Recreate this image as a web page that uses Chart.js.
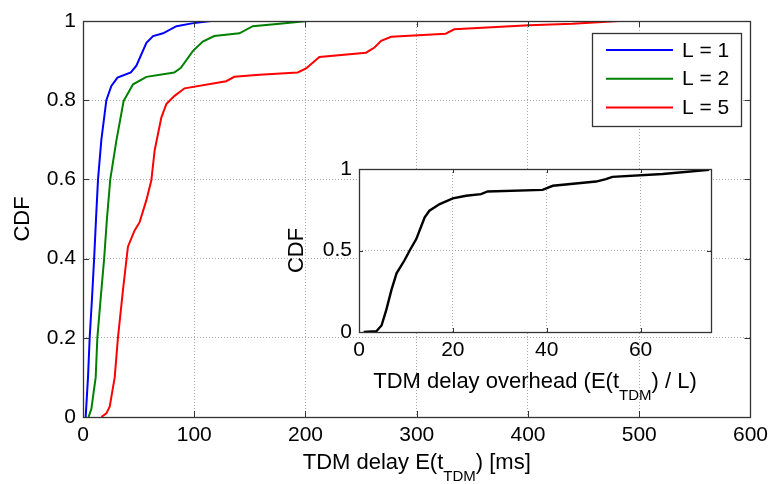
<!DOCTYPE html>
<html>
<head>
<meta charset="utf-8">
<script src="https://cdn.jsdelivr.net/npm/chart.js@4.4.1/dist/chart.umd.min.js"></script>
<style>
	html, body { margin: 0; padding: 0; background: #fff; }
	#wrap { position: relative; width: 774px; height: 484px; }
	#wrap canvas { position: absolute; left: 0; top: 0; }
</style>
</head>
<body>
<div id="wrap">
	<canvas id="mainChart" width="774" height="484"></canvas>
	<canvas id="insetChart" width="774" height="484"></canvas>
</div>
<script>
// данные
const delayL1 = [2.4, 4.5, 6, 8.1, 10, 11.7, 13.5, 16.5, 21, 25.5, 31, 43, 48, 57, 63, 72, 84, 98, 115];
const cdfL1 = [0, 0.1, 0.2, 0.3, 0.4, 0.5, 0.6, 0.7, 0.8, 0.836, 0.857, 0.87, 0.887, 0.945, 0.962, 0.969, 0.987, 0.994, 1];

const delayL2 = [5, 7.5, 11.4, 12.9, 15.9, 19, 21.5, 24.5, 30, 36.5, 45, 57, 82, 88, 98.7, 107.7, 118, 140.6, 152.6, 176.6, 202];
const cdfL2 = [0, 0.02, 0.1, 0.2, 0.3, 0.4, 0.5, 0.6, 0.698, 0.798, 0.84, 0.859, 0.87, 0.882, 0.924, 0.948, 0.962, 0.969, 0.987, 0.993, 1];

const delayL5 = [16.5, 21, 24, 28.5, 31.4, 35.9, 40.4, 46.4, 50.9, 56.9, 61.4, 64.4, 70.4, 74.9, 82.3, 91.3, 128.7, 136, 158.6, 193, 200.5, 212.5, 254.4, 262, 268, 277, 326, 333.7, 401, 440, 482];
const cdfL5 = [0, 0.009, 0.026, 0.1, 0.2, 0.32, 0.43, 0.471, 0.492, 0.547, 0.597, 0.673, 0.756, 0.79, 0.811, 0.83, 0.848, 0.859, 0.864, 0.87, 0.88, 0.909, 0.92, 0.933, 0.95, 0.96, 0.968, 0.979, 0.989, 0.993, 1];

const overhead = [1, 3.7, 4.8, 5.8, 6.9, 8, 9.7, 10.8, 12.2, 13.3, 14, 15, 17.2, 20, 22.8, 26, 27.4, 39.1, 41.3, 50.5, 52.6, 54, 64.7, 74.6];
const cdfOverhead = [0, 0.005, 0.04, 0.134, 0.257, 0.36, 0.44, 0.5, 0.57, 0.652, 0.703, 0.744, 0.785, 0.82, 0.836, 0.846, 0.862, 0.872, 0.897, 0.923, 0.938, 0.952, 0.969, 0.995];

const seriesLabels = ["L = 1", "L = 2", "L = 5"];
const colors = ["#0000ff", "#008000", "#ff0000"];

const mainXTicks = [0, 100, 200, 300, 400, 500, 600];
const mainYTicks = [0, 0.2, 0.4, 0.6, 0.8, 1];
const insetXTicks = [0, 20, 40, 60];
const insetYTicks = [0, 0.5, 1];

// подписи осей: [текст, нижний индекс, текст]
const mainXTitle = ["TDM delay E(t", "TDM", ") [ms]"];
const insetXTitle = ["TDM delay overhead (E(t", "TDM", ") / L)"];
const yTitle = "CDF";

const FONT = "'Liberation Sans', Arial, Helvetica, sans-serif";
Chart.defaults.font.family = FONT;
Chart.defaults.color = "#000";

function toPoints(xs, ys) {
	return xs.map((x, i) => ({ x: x, y: ys[i] }));
}

// рисует строку с нижним индексом по центру cx
function drawSubTitle(ctx, parts, cx, baseY, size, subSize, drop) {
	ctx.save();
	ctx.fillStyle = "#000";
	ctx.textBaseline = "alphabetic";
	ctx.textAlign = "left";
	const fonts = parts.map((p, i) => (i % 2 === 1 ? subSize : size) + "px " + FONT);
	let total = 0;
	const widths = parts.map((p, i) => {
		ctx.font = fonts[i];
		const w = ctx.measureText(p).width;
		total += w;
		return w;
	});
	let x = cx - total / 2;
	parts.forEach((p, i) => {
		ctx.font = fonts[i];
		ctx.fillText(p, x, i % 2 === 1 ? baseY + drop : baseY);
		x += widths[i];
	});
	ctx.restore();
}

function drawRotated(ctx, text, cx, cy, size) {
	ctx.save();
	ctx.translate(cx, cy);
	ctx.rotate(-Math.PI / 2);
	ctx.font = size + "px " + FONT;
	ctx.fillStyle = "#000";
	ctx.textAlign = "center";
	ctx.textBaseline = "middle";
	ctx.fillText(text, 0, 0);
	ctx.restore();
}

// рамка в стиле matlab: тики внутрь со всех сторон
function makeFrame(tickLen, extra) {
	return {
		id: "frame",
		beforeDraw(chart) {
			if (!extra.whiteBg) return;
			const a = chart.chartArea;
			chart.ctx.save();
			chart.ctx.fillStyle = "#fff";
			chart.ctx.fillRect(a.left, a.top, a.right - a.left, a.bottom - a.top);
			chart.ctx.restore();
		},
		afterDraw(chart) {
			const { ctx, chartArea: a, scales } = chart;
			const xs = scales.x;
			const ys = scales.y;
			ctx.save();
			ctx.strokeStyle = "#333";
			ctx.lineWidth = 1;
			ctx.beginPath();
			xs.ticks.forEach((t) => {
				const px = Math.round(xs.getPixelForValue(t.value)) + 0.5;
				ctx.moveTo(px, a.bottom);
				ctx.lineTo(px, a.bottom - tickLen);
				ctx.moveTo(px, a.top);
				ctx.lineTo(px, a.top + tickLen);
			});
			ys.ticks.forEach((t) => {
				const py = Math.round(ys.getPixelForValue(t.value)) + 0.5;
				ctx.moveTo(a.left, py);
				ctx.lineTo(a.left + tickLen, py);
				ctx.moveTo(a.right, py);
				ctx.lineTo(a.right - tickLen, py);
			});
			ctx.stroke();
			ctx.lineWidth = 1.3;
			ctx.strokeRect(Math.round(a.left) + 0.5, Math.round(a.top) + 0.5, Math.round(a.right - a.left), Math.round(a.bottom - a.top));
			ctx.restore();

			// подписи осей
			const cx = (a.left + a.right) / 2;
			drawSubTitle(ctx, extra.xTitle, cx, extra.titleY, 22, 15, 12);
			drawRotated(ctx, yTitle, extra.yTitleX, (a.top + a.bottom) / 2, 22);

			if (extra.legend) drawLegend(chart);
		},
	};
}

function drawLegend(chart) {
	const ctx = chart.ctx;
	const box = { x: 592, y: 33, w: 149, h: 93 };
	ctx.save();
	ctx.fillStyle = "#fff";
	ctx.fillRect(box.x, box.y, box.w, box.h);
	ctx.strokeStyle = "#333";
	ctx.lineWidth = 1.3;
	ctx.strokeRect(box.x + 0.5, box.y + 0.5, box.w, box.h);
	ctx.font = "21px " + FONT;
	ctx.textBaseline = "middle";
	ctx.textAlign = "left";
	chart.data.datasets.forEach((ds, i) => {
		const yy = 50 + i * 28.7;
		ctx.strokeStyle = ds.borderColor;
		ctx.lineWidth = 2;
		ctx.beginPath();
		ctx.moveTo(606, yy);
		ctx.lineTo(673, yy);
		ctx.stroke();
		ctx.fillStyle = "#000";
		ctx.fillText(ds.label, 682, yy + 1);
	});
	ctx.restore();
}

function gridOpts() {
	return {
		color: "#a8a8a8",
		lineWidth: 1,
		drawTicks: false,
	};
}

const mainDatasets = [
	[delayL1, cdfL1],
	[delayL2, cdfL2],
	[delayL5, cdfL5],
].map((pair, i) => ({
	label: seriesLabels[i],
	data: toPoints(pair[0], pair[1]),
	borderColor: colors[i],
	backgroundColor: colors[i],
	borderWidth: 2,
	pointRadius: 0,
	tension: 0,
	fill: false,
}));

const mainChart = new Chart(document.getElementById("mainChart"), {
	type: "line",
	data: { datasets: mainDatasets },
	options: {
		responsive: false,
		animation: false,
		events: [],
		layout: { padding: { left: 0, right: 22, top: 21, bottom: 0 } },
		plugins: { legend: { display: false }, tooltip: { enabled: false } },
		scales: {
			x: {
				type: "linear",
				min: 0,
				max: 600,
				afterFit: (s) => { s.height = 67; },
				afterBuildTicks: (s) => { s.ticks = mainXTicks.map((v) => ({ value: v })); },
				grid: gridOpts(),
				border: { display: false, dash: [1, 2] },
				ticks: { font: { size: 21 }, padding: 6, maxRotation: 0, autoSkip: false },
			},
			y: {
				min: 0,
				max: 1,
				afterFit: (s) => { s.width = 83; },
				afterBuildTicks: (s) => { s.ticks = mainYTicks.map((v) => ({ value: v })); },
				grid: gridOpts(),
				border: { display: false, dash: [1, 2] },
				ticks: { font: { size: 21 }, padding: 7, callback: (v) => String(+v.toFixed(1)) },
			},
		},
	},
	plugins: [makeFrame(6, { xTitle: mainXTitle, titleY: 469, yTitleX: 23, legend: true })],
});

const insetChart = new Chart(document.getElementById("insetChart"), {
	type: "line",
	data: {
		datasets: [
			{
				label: "overhead",
				data: toPoints(overhead, cdfOverhead),
				borderColor: "#000",
				borderWidth: 2.4,
				pointRadius: 0,
				tension: 0,
				fill: false,
			},
		],
	},
	options: {
		responsive: false,
		animation: false,
		events: [],
		layout: { padding: { left: 299, right: 63, top: 169, bottom: 92 } },
		plugins: { legend: { display: false }, tooltip: { enabled: false } },
		scales: {
			x: {
				type: "linear",
				min: 0,
				max: 75,
				afterFit: (s) => { s.height = 60; },
				afterBuildTicks: (s) => { s.ticks = insetXTicks.map((v) => ({ value: v })); },
				grid: gridOpts(),
				border: { display: false, dash: [1, 2] },
				ticks: { font: { size: 21 }, padding: 6, maxRotation: 0, autoSkip: false },
			},
			y: {
				min: 0,
				max: 1,
				afterFit: (s) => { s.width = 60; },
				afterBuildTicks: (s) => { s.ticks = insetYTicks.map((v) => ({ value: v })); },
				grid: gridOpts(),
				border: { display: false, dash: [1, 2] },
				ticks: { font: { size: 21 }, padding: 7, callback: (v) => String(+v.toFixed(1)) },
			},
		},
	},
	plugins: [makeFrame(4, { xTitle: insetXTitle, titleY: 388, yTitleX: 297, whiteBg: true })],
});
</script>
</body>
</html>
